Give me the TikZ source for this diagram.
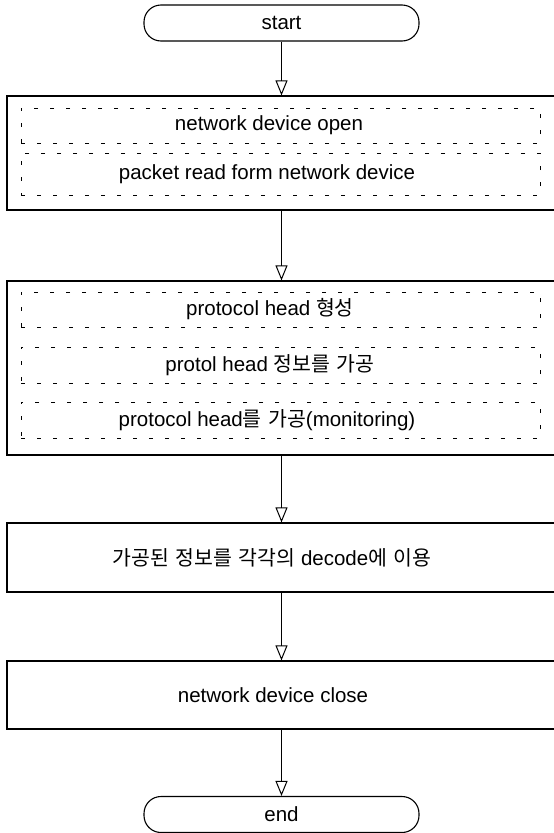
\documentclass[tikz,border=0pt]{standalone}
\usepackage{fontspec}
\setmainfont{Liberation Sans}
\newfontfamily\kr[WordSpace=1.4]{Noto Sans CJK KR}
\usetikzlibrary{arrows.meta,positioning}

\tikzset{
  txt/.style={font=\fontsize{20.5}{24}\selectfont},
  term/.style={draw, txt, line width=1.1pt, rounded corners=17pt, minimum width=275pt,
    minimum height=36pt, inner sep=0pt},
  outerbox/.style={draw, line width=1.2pt, minimum width=553pt, inner sep=0pt},
  subbox/.style={draw, line width=0.8pt, dash pattern=on 4pt off 12pt,
    minimum width=519pt, inner sep=0pt},
  arr/.style={line width=1pt, -{Triangle[open, length=15pt, width=12pt, line width=1pt]}},
}

\begin{document}
\begin{tikzpicture}[x=1pt, y=-1pt]
\useasboundingbox (0,0) rectangle (554,833);

% terminals
\node[term] (start) at (281.5,23) {start};
\node[term] (end) at (281.5,814.5) {end};

% first block: open device and read packets
\node[outerbox, minimum height=114pt] (b1) at (283.5,153) {};
\node[subbox, minimum height=35pt] (s11) at (280.5,125.5) {};
\node[subbox, minimum height=42pt] (s12) at (280.5,174) {};
\node[txt] (t11) at (269,125.5) {network device open};
\node[txt] (t12) at (267,174) {packet read form network device};

% second block: protocol header handling
\node[outerbox, minimum height=174pt] (b2) at (283.5,368) {};
\node[subbox, minimum height=35pt] (s21) at (280.5,309.5) {};
\node[subbox, minimum height=36pt] (s22) at (280.5,365) {};
\node[subbox, minimum height=36pt] (s23) at (280.5,420) {};
\node[txt] (t21) at (270,309.5) {protocol head {\kr 형성}};
\node[txt] (t22) at (270,365) {protol head {\kr 정보를 가공}};
\node[txt] (t23) at (267,420) {protocol head{\kr 를 가공}(monitoring)};

% third and fourth blocks
\node[outerbox, minimum height=69pt] (b3) at (283.5,557.5) {};
\node[txt] (t3) at (272,557.5) {{\kr 가공된 정보를 각각의} decode{\kr 에 이용}};
\node[outerbox, minimum height=68pt] (b4) at (283.5,695) {};
\node[txt] (t4) at (273,695) {network device close};

% connectors
\draw[arr] (start.south) -- (start.south |- b1.north);
\draw[arr] (start.south |- b1.south) -- (start.south |- b2.north);
\draw[arr] (start.south |- b2.south) -- (start.south |- b3.north);
\draw[arr] (start.south |- b3.south) -- (start.south |- b4.north);
\draw[arr] (start.south |- b4.south) -- (end.north);
\end{tikzpicture}
\end{document}
